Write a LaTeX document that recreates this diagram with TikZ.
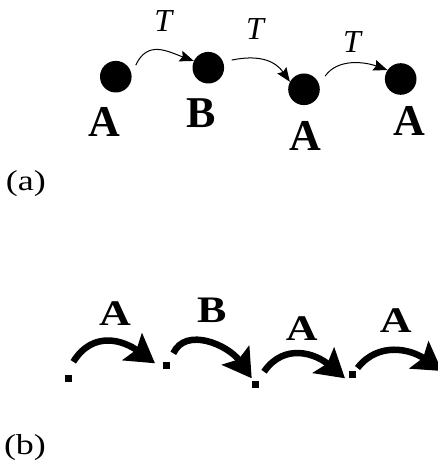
\documentclass[tikz,border=0pt]{standalone}
\usepackage{fontspec}
\setmainfont{LiberationSerif}[Extension=.ttf,UprightFont=*-Regular,BoldFont=*-Bold,ItalicFont=*-Italic,BoldItalicFont=*-BoldItalic]
\usetikzlibrary{arrows.meta,calc}
\begin{document}
\begin{tikzpicture}[x=1pt,y=1pt,
 dot/.style={circle,fill=black,minimum size=31.6pt,inner sep=0pt},
 bigl/.style={inner sep=0pt,font=\fontsize{44}{44}\selectfont\bfseries},
 tl/.style={inner sep=0pt,font=\fontsize{32}{32}\selectfont\itshape},
 thinarrow/.style={line width=1pt,-{Stealth[length=14pt,width=11pt,inset=2pt]}},
 thickarrow/.style={line width=6.5pt,-{Stealth[length=28pt,width=33pt,inset=5pt]}},
 sq/.style={rectangle,fill=black,minimum size=7pt,inner sep=0pt},
 captxt/.style={inner sep=0pt,font=\fontsize{36}{36}\selectfont}
]
\useasboundingbox (0,0) rectangle (438,464);
\begin{scope}
\clip (0,0) rectangle (438,464);
% (a)
\node[dot] (d1) at (115.8,387.3) {};
\node[dot] (d2) at (208.3,396.3) {};
\node[dot] (d3) at (304,374.7) {};
\node[dot] (d4) at (400.7,385) {};
\node[bigl] (la1) at (104.2,342.3) {A};
\node[bigl] (lb2) at (200.8,350.7) {B};
\node[bigl] (la3) at (305.8,328.5) {A};
\node[bigl] (la4) at (409.2,343.2) {A};
\node[tl] (t1) at (163.3,443.2) {T};
\node[tl] (t2) at (255,435) {T};
\node[tl] (t3) at (352,421.5) {T};
\draw[thinarrow] ($(d1)+(30:23)$) .. controls ($(d1)+(30:23)+(65:28)$) and ($(d2.155)+(160:28)$) .. (d2.155);
\draw[thinarrow] ($(d2)+(18:24.6)$) .. controls ($(d2)+(18:24.6)+(12:30)$) and ($(d3.152)+(125:24)$) .. (d3.152);
\draw[thinarrow] ($(d3)+(32:24.9)$) .. controls ($(d3)+(32:24.9)+(55:22)$) and ($(d4.146)+(160:24)$) .. (d4.146);
\node[captxt] (capa) at (25.8,280) {\scalebox{1}[0.8]{(a)}};
% (b)
\node[sq] (s1) at (68.3,85.7) {};
\node[sq] (s2) at (166,98.5) {};
\node[sq] (s3) at (255,79.7) {};
\node[sq] (s4) at (352.3,89) {};
\coordinate (e4) at (442,93);
\node[bigl] (ba1) at (115,150.7) {\scalebox{1}[0.82]{A}};
\node[bigl] (bb2) at (212.5,154) {\scalebox{1}[0.85]{B}};
\node[bigl] (ba3) at (301.7,135.7) {\scalebox{1}[0.82]{A}};
\node[bigl] (ba4) at (395.8,143) {\scalebox{1}[0.82]{A}};
\draw[thickarrow] ($(s1)+(5,16.5)$) .. controls ($(s1)+(5,16.5)+(58:38)$) and ($(s2)+(-11,2.2)+(144:38)$) .. ($(s2)+(-11,2.2)$);
\draw[thickarrow] ($(s2)+(7.3,12.2)$) .. controls ($(s2)+(7.3,12.2)+(65:30)$) and ($(s3)+(-3.3,6)+(125:40)$) .. ($(s3)+(-3.3,6)$);
\draw[thickarrow] ($(s3)+(9,12.6)$) .. controls ($(s3)+(9,12.6)+(55:36)$) and ($(s4)+(-7.3,-3.3)+(140:38)$) .. ($(s4)+(-7.3,-3.3)$);
\draw[thickarrow] ($(s4)+(5.2,7)$) .. controls ($(s4)+(5.2,7)+(52:34)$) and ($(e4)+(145:38)$) .. (e4);
\node[captxt] (capb) at (25,16) {\scalebox{1}[0.8]{(b)}};
\end{scope}
\end{tikzpicture}
\end{document}
